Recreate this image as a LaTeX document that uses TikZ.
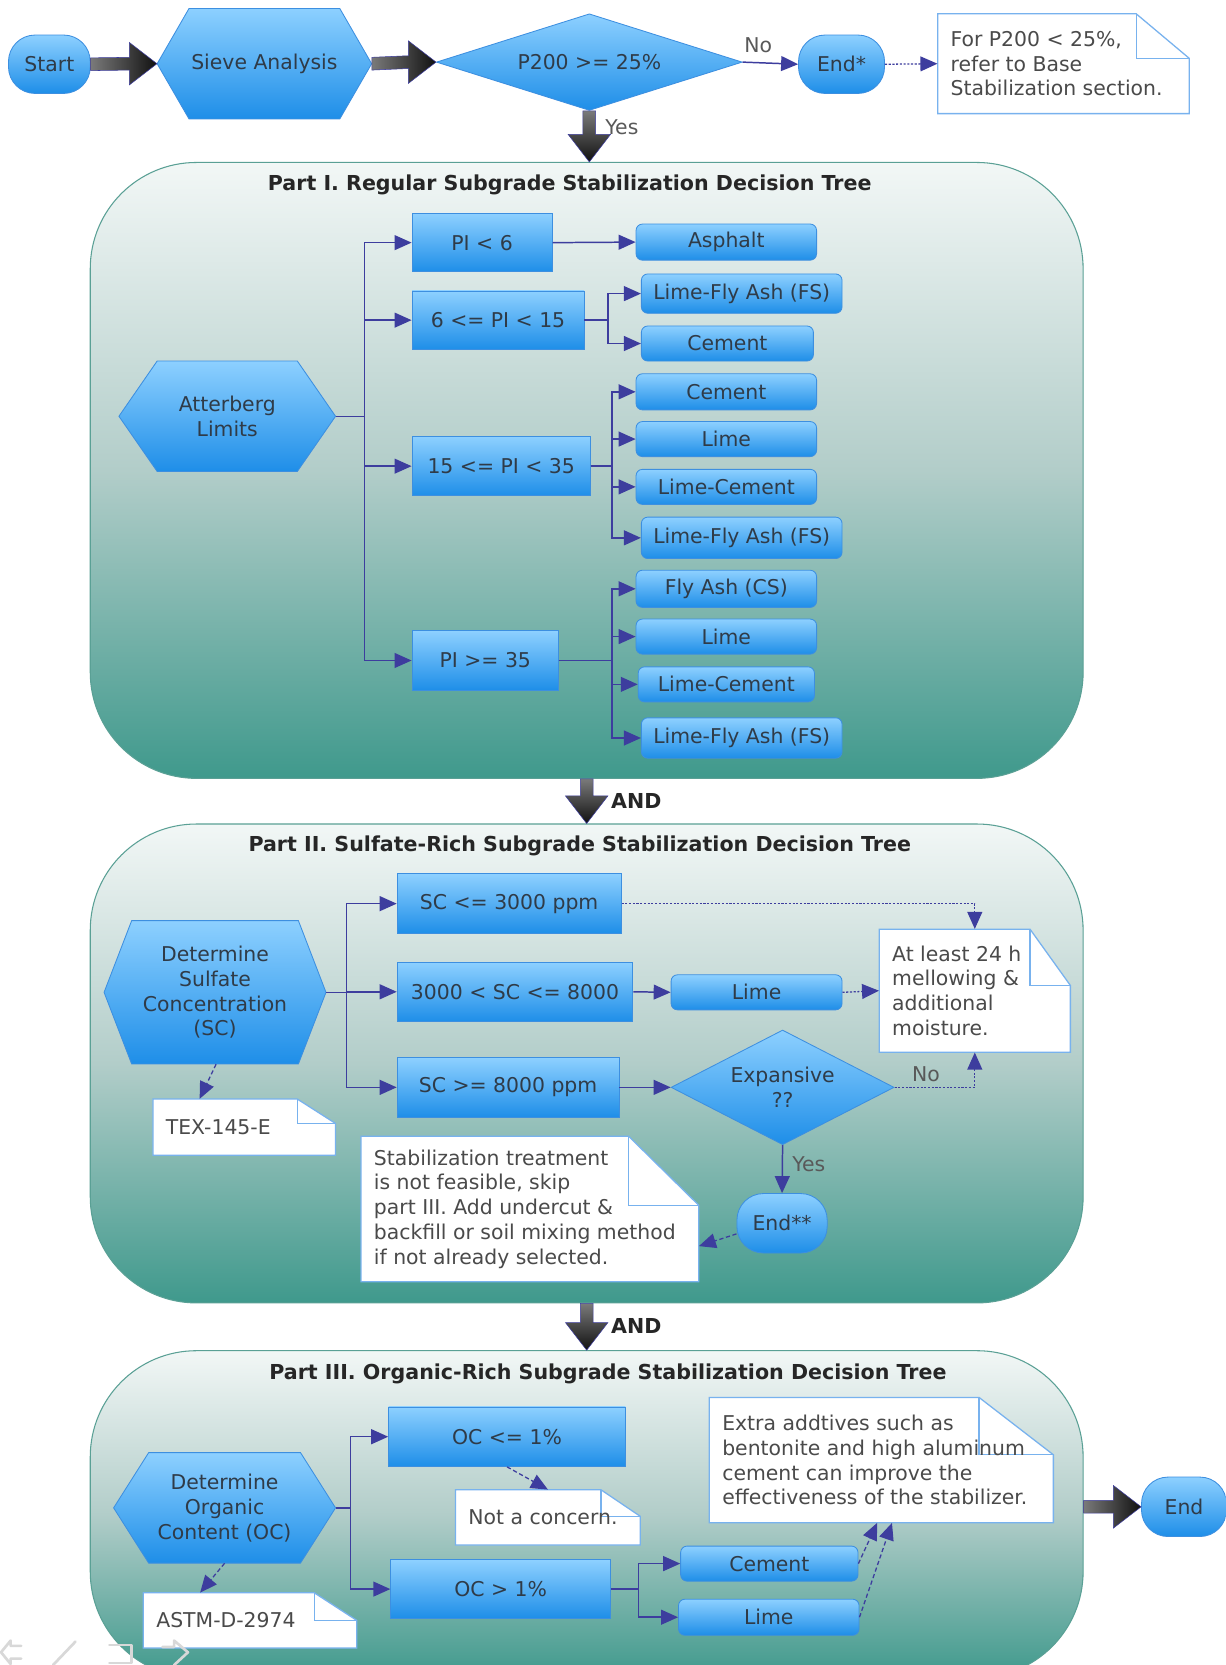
\documentclass[tikz,border=0pt]{standalone}
\usepackage{fontspec}
\setmainfont{DejaVu Sans}
\usetikzlibrary{arrows.meta,shapes.geometric,calc}
\definecolor{blueTop}{HTML}{8DD0FF}
\definecolor{blueBot}{HTML}{1E8EE8}
\definecolor{blueEdge}{HTML}{3D8FE0}
\definecolor{connc}{HTML}{3D3D9E}
\definecolor{txt}{HTML}{2F3B48}
\definecolor{notetxt}{HTML}{4A4A4A}
\definecolor{noteedge}{HTML}{78B2EE}
\definecolor{contTop}{HTML}{F2F7F6}
\definecolor{contMid}{HTML}{B2CDC9}
\definecolor{contBot}{HTML}{3F998C}
\definecolor{contEdge}{HTML}{5AA095}
\definecolor{fatL}{HTML}{7A7A7A}
\definecolor{fatR}{HTML}{111111}
\definecolor{iconc}{HTML}{D8D8D8}
\newcommand\hexa[7]{%
  \shadedraw[bluebox] ({#2-#4},#3) -- ({#2-#4+#6},{#3-#5}) -- ({#2+#4-#6},{#3-#5}) -- ({#2+#4},#3) -- ({#2+#4-#6},{#3+#5}) -- ({#2-#4+#6},{#3+#5}) -- cycle;
  \node[inner sep=0pt, align=center, minimum width={2*#4*1pt}, minimum height={2*#5*1pt}] (#1) at (#2,#3) {#7};
}
\newcommand\notebx[8]{%
  \filldraw[notebox] (#2,#3) -- (#6,#3) -- (#4,#7) -- (#4,#5) -- (#2,#5) -- cycle;
  \draw[notebox, fill=none] (#6,#3) -- (#6,#7) -- (#4,#7);
  \node[inner sep=0pt, minimum width={(#4-#2)*1pt}, minimum height={(#5-#3)*1pt}] (#1) at ({(#2+#4)/2},{(#3+#5)/2}) {};
  \node[notetext] (#1-t) at ({#2+12},{(#3+#5)/2}) {#8};
}
% horizontal fat arrow from #1 to #2
\newcommand\fath[2]{%
  \path (#1) coordinate (fa-s) (#2) coordinate (fa-e);
  \shadedraw[fatarrow, left color=fatL, right color=fatR]
    ($(fa-s)+(0,-6)$) -- ($(fa-e)+(-26,-6)$) -- ($(fa-e)+(-26,-20)$) -- (fa-e) -- ($(fa-e)+(-26,20)$) -- ($(fa-e)+(-26,6)$) -- ($(fa-s)+(0,6)$) -- cycle;
}
% vertical fat arrow (downwards) from #1 to #2
\newcommand\fatv[2]{%
  \path (#1) coordinate (fa-s) (#2) coordinate (fa-e);
  \shadedraw[fatarrow, top color=fatL, bottom color=fatR]
    ($(fa-s)+(-6,0)$) -- ($(fa-e)+(-6,-26)$) -- ($(fa-e)+(-20,-26)$) -- (fa-e) -- ($(fa-e)+(20,-26)$) -- ($(fa-e)+(6,-26)$) -- ($(fa-s)+(6,0)$) -- cycle;
}
\begin{document}
\begin{tikzpicture}[x=1pt,y=-1pt,
  every node/.style={font=\fontsize{19.2}{23.3}\selectfont, text=txt},
  bluebox/.style={draw=blueEdge, line width=0.8pt, top color=blueTop, bottom color=blueBot},
  rectbox/.style={bluebox, inner sep=0pt},
  roundbox/.style={bluebox, inner sep=0pt, rounded corners=6pt},
  pill/.style={bluebox, inner sep=0pt, rounded corners=25pt},
  decision/.style={bluebox, diamond, inner sep=0pt, align=center},
  container/.style={draw=contEdge, line width=1pt, rounded corners=100pt, top color=contTop, bottom color=contBot, middle color=contMid},
  conn/.style={draw=connc, line width=1.4pt, -{Triangle[length=16pt,width=14pt]}},
  dotconn/.style={conn, line width=1.2pt, dash pattern=on 2pt off 1.5pt},
  dashconn/.style={conn, line width=1.2pt, dash pattern=on 4pt off 2.5pt},
  fatarrow/.style={draw=connc, line width=0.5pt},
  notebox/.style={fill=white, draw=noteedge, line width=1.2pt},
  notetext/.style={text=notetxt, align=left, anchor=west, inner sep=0pt},
  title/.style={font=\bfseries\fontsize{19.4}{22}\selectfont, text=black!85},
  lab/.style={text=black!65, inner sep=1pt},
  andlab/.style={font=\bfseries\fontsize{19.4}{22}\selectfont, text=black!85},
  icon/.style={draw=iconc, line width=2.5pt, line cap=round, line join=round}
]
\useasboundingbox (0,0) rectangle (1154,1568);
\clip (0,0) rectangle (1154,1568);
\fill[white] (0,0) rectangle (1154,1568);

% ---------- top row ----------
\node[pill, minimum width=77pt, minimum height=55pt] (start) at (46.5,60.5) {Start};
\hexa{sieve}{249}{60}{101}{52}{30}{Sieve Analysis}
\node[decision, aspect=3.16, minimum width=288pt, minimum height=91pt] (p200) at (555,58.5) {P200 >= 25\%};
\node[pill, minimum width=81pt, minimum height=55pt] (endstar) at (792.5,60.5) {End*};
\notebx{note1}{883}{13}{1120}{107}{1070}{55}{For P200 < 25\%,\\refer to Base\\Stabilization section.}

\fath{start.east}{sieve.west}
\fath{sieve.east}{p200.west}
\draw[conn] (p200.east) -- (endstar.west);
\node[lab] (no1) at (714,43) {No};
\draw[dotconn] (endstar.east) -- (note1.west);

% ---------- Part I ----------
\node[container, minimum width=935pt, minimum height=580pt] (part1) at (552.5,443) {};
\fatv{p200.south}{p200.south |- part1.north}
\node[lab, anchor=west] (yes1) at (569,120) {Yes};
\node[title] (t1) at (536.5,174) {Part I. Regular Subgrade Stabilization Decision Tree};

\hexa{att}{214}{392}{102}{52}{36}{Atterberg\\Limits}
\node[rectbox, minimum width=132pt, minimum height=55pt] (pi1) at (454,228.5) {PI < 6};
\node[rectbox, minimum width=162pt, minimum height=55pt] (pi2) at (469,301.5) {6 <= PI < 15};
\node[rectbox, minimum width=168pt, minimum height=56pt] (pi3) at (472,439) {15 <= PI < 35};
\node[rectbox, minimum width=138pt, minimum height=56pt] (pi4) at (457,622) {PI >= 35};

\node[roundbox, minimum width=170pt, minimum height=34pt] (asph) at (684,228) {Asphalt};
\node[roundbox, minimum width=189pt, minimum height=37pt] (lfa1) at (698.5,276.5) {Lime-Fly Ash (FS)};
\node[roundbox, minimum width=162pt, minimum height=33pt] (cem1) at (685,323.5) {Cement};
\node[roundbox, minimum width=170pt, minimum height=34pt] (cem2) at (684,369) {Cement};
\node[roundbox, minimum width=170pt, minimum height=33pt] (lime1) at (684,413.5) {Lime};
\node[roundbox, minimum width=170pt, minimum height=33pt] (lc1) at (684,458.5) {Lime-Cement};
\node[roundbox, minimum width=189pt, minimum height=39pt] (lfa2) at (698.5,506.5) {Lime-Fly Ash (FS)};
\node[roundbox, minimum width=170pt, minimum height=35pt] (fa) at (684,554.5) {Fly Ash (CS)};
\node[roundbox, minimum width=170pt, minimum height=33pt] (lime2) at (684,599.5) {Lime};
\node[roundbox, minimum width=166pt, minimum height=33pt] (lc2) at (684,644.5) {Lime-Cement};
\node[roundbox, minimum width=189pt, minimum height=38pt] (lfa3) at (698.5,695) {Lime-Fly Ash (FS)};

\foreach \t in {pi1,pi2,pi3,pi4} \draw[conn] (att.east) -- ++(27,0) |- (\t.west);
\draw[conn] (pi1.east) -- (asph.west);
\foreach \t in {lfa1,cem1} \draw[conn] (pi2.east) -- ++(22,0) |- (\t.west);
\foreach \t in {cem2,lime1,lc1,lfa2} \draw[conn] (pi3.east) -- ++(20,0) |- (\t.west);
\foreach \t in {fa,lime2,lc2,lfa3} \draw[conn] (pi4.east) -- ++(50,0) |- (\t.west);

% ---------- Part II ----------
\node[container, minimum width=935pt, minimum height=451pt] (part2) at (552.5,1001.5) {};
\fatv{part1.south}{part2.north}
\node[andlab, anchor=west] (and1) at (572,754) {AND};
\node[title] (t2) at (546,797) {Part II. Sulfate-Rich Subgrade Stabilization Decision Tree};

\hexa{sc}{202.5}{934.5}{104.5}{67.5}{26}{Determine\\Sulfate\\Concentration\\(SC)}
\node[rectbox, minimum width=211pt, minimum height=56pt] (sc1) at (479.5,851) {SC <= 3000 ppm};
\node[rectbox, minimum width=222pt, minimum height=56pt] (sc2) at (485,934) {3000 < SC <= 8000};
\node[rectbox, minimum width=209pt, minimum height=56pt] (sc3) at (478.5,1024) {SC >= 8000 ppm};
\node[roundbox, minimum width=161pt, minimum height=33pt] (lime3) at (712.5,934.5) {Lime};
\node[decision, aspect=1.94, minimum width=210pt, minimum height=108pt] (exp) at (737,1024) {Expansive\\??};
\node[pill, minimum width=85pt, minimum height=56pt] (end2) at (736.5,1152) {End**};
\notebx{note2}{828}{875}{1008}{991}{970}{928}{At least 24 h\\mellowing \&\\additional\\moisture.}
\notebx{note3}{340}{1070}{658}{1207}{592}{1135}{Stabilization treatment\\is not feasible, skip\\part III. Add undercut \&\\backfill or soil mixing method\\if not already selected.}
\notebx{tex}{144}{1035}{316}{1088}{280}{1058}{TEX-145-E}

\foreach \t in {sc1,sc2,sc3} \draw[conn] (sc.east) -- ++(19,0) |- (\t.west);
\draw[conn] (sc2.east) -- (lime3.west);
\draw[conn] (sc3.east) -- (exp.west);
\draw[dotconn] (lime3.east) -- (note2.west);
\draw[dotconn] (sc1.east) -| (note2.north);
\draw[dotconn] (exp.east) -| (note2.south);
\node[lab] (no2) at (872,1012) {No};
\draw[conn] (exp.south) -- (end2.north);
\node[lab, anchor=west] (yes2) at (745,1096) {Yes};
\draw[dashconn] ([yshift=-10pt]end2.west) -- ([yshift=-35pt]note3.east);
\draw[dashconn] ([xshift=1pt]sc.south) -- ([xshift=-42pt]tex.north);

% ---------- Part III ----------
\node[container, minimum width=935pt, minimum height=308pt] (part3) at (552.5,1426) {};
\fatv{part2.south}{part3.north}
\node[andlab, anchor=west] (and2) at (572,1249) {AND};
\node[title] (t3) at (572.5,1294) {Part III. Organic-Rich Subgrade Stabilization Decision Tree};

\hexa{oc}{211.5}{1420}{104.5}{52}{33}{Determine\\Organic\\Content (OC)}
\node[rectbox, minimum width=223pt, minimum height=56pt] (oc1) at (477.5,1353) {OC <= 1\%};
\node[rectbox, minimum width=207pt, minimum height=55pt] (oc2) at (471.5,1496.5) {OC > 1\%};
\node[roundbox, minimum width=167pt, minimum height=33pt] (cem3) at (724.5,1472.5) {Cement};
\node[roundbox, minimum width=170pt, minimum height=34pt] (lime4) at (724,1523) {Lime};
\notebx{nc}{429}{1403}{603}{1455}{566}{1428}{Not a concern.}
\notebx{note4}{668}{1316}{992}{1434}{922}{1370}{Extra addtives such as\\bentonite and high aluminum\\cement can improve the\\effectiveness of the stabilizer.}
\notebx{astm}{135}{1500}{336}{1552}{296}{1526}{ASTM-D-2974}

\foreach \t in {oc1,oc2} \draw[conn] (oc.east) -- ++(14,0) |- (\t.west);
\foreach \t in {cem3,lime4} \draw[conn] (oc2.east) -- ++(26,0) |- (\t.west);
\draw[dashconn] (oc1.south) -- (nc.north);
\draw[dashconn] (cem3.east) -- ([xshift=-4pt]note4.south);
\draw[dashconn] (lime4.east) -- ([xshift=10pt]note4.south);
\draw[dashconn] (oc.south) -- ([xshift=-47pt]astm.north);

\node[pill, minimum width=80pt, minimum height=56pt] (endf) at (1115,1419) {End};
\fath{endf.west -| part3.east}{endf.west}

% ---------- faint viewer icons, bottom left ----------
\draw[icon] (20,1550) -- (10,1550) -- (10,1545) -- (1,1556) -- (10,1567) -- (10,1562) -- (20,1562);
\draw[icon] (71,1546) -- (50,1568);
\draw[icon] (103,1549) -- (124,1549) -- (124,1566) -- (103,1566);
\draw[icon] (153,1551) -- (164,1551) -- (164,1545) -- (177,1556) -- (164,1568);
\end{tikzpicture}
\end{document}
